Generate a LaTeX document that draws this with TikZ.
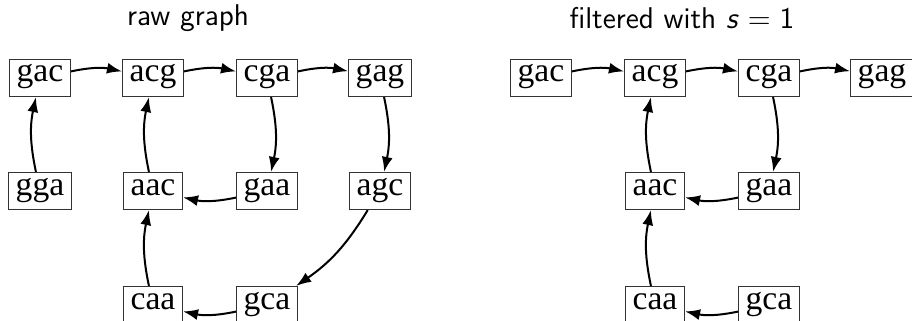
\documentclass[tikz,border=0pt]{standalone}
\usepackage{fontspec}
\newfontfamily\nodefont{Liberation Serif}
\usetikzlibrary{arrows.meta}
\tikzset{
  kbox/.style={draw=black!80, line width=0.5pt, font=\nodefont\fontsize{16.8}{18}\selectfont,
    inner xsep=3.6pt, inner ysep=3.7pt, text height=7.6pt, text depth=3.6pt},
  edge/.style={line width=1pt, -{Latex[length=7.5pt,width=5.5pt]}, bend left=12},
  ttl/.style={font=\sffamily\fontsize{15}{17}\selectfont}
}
\begin{document}
\begin{tikzpicture}[x=0.5pt,y=-0.5pt]
\clip (0,0) rectangle (912,321);
% left panel
\node[ttl] (t1) at (188,18) {raw graph};
\node[kbox] (gac) at (40,78) {gac};
\node[kbox] (acg) at (153,78) {acg};
\node[kbox] (cga) at (267,78) {cga};
\node[kbox] (gag) at (380,78) {gag};
\node[kbox] (gga) at (40,191) {gga};
\node[kbox] (aac) at (153,191) {aac};
\node[kbox] (gaa) at (267,191) {gaa};
\node[kbox] (agc) at (380,191) {agc};
\node[kbox] (caa) at (153,305) {caa};
\node[kbox] (gca) at (267,305) {gca};
\draw[edge] (gac) to (acg);
\draw[edge] (acg) to (cga);
\draw[edge] (cga) to (gag);
\draw[edge] (gga) to (gac);
\draw[edge] (aac) to (acg);
\draw[edge] (cga) to (gaa);
\draw[edge] (gag) to (agc);
\draw[edge] (gaa) to (aac);
\draw[edge] (agc) to (gca);
\draw[edge] (caa) to (aac);
\draw[edge] (gca) to (caa);
% right panel
\node[ttl] (t2) at (682,18) {filtered with \textit{s}\hspace{0.3em}=\hspace{0.3em}1};
\node[kbox] (rgac) at (541,78) {gac};
\node[kbox] (racg) at (655,78) {acg};
\node[kbox] (rcga) at (769,78) {cga};
\node[kbox] (rgag) at (882,78) {gag};
\node[kbox] (raac) at (655,191) {aac};
\node[kbox] (rgaa) at (769,191) {gaa};
\node[kbox] (rcaa) at (655,305) {caa};
\node[kbox] (rgca) at (769,305) {gca};
\draw[edge] (rgac) to (racg);
\draw[edge] (racg) to (rcga);
\draw[edge] (rcga) to (rgag);
\draw[edge] (raac) to (racg);
\draw[edge] (rcga) to (rgaa);
\draw[edge] (rgaa) to (raac);
\draw[edge] (rcaa) to (raac);
\draw[edge] (rgca) to (rcaa);
\end{tikzpicture}
\end{document}
